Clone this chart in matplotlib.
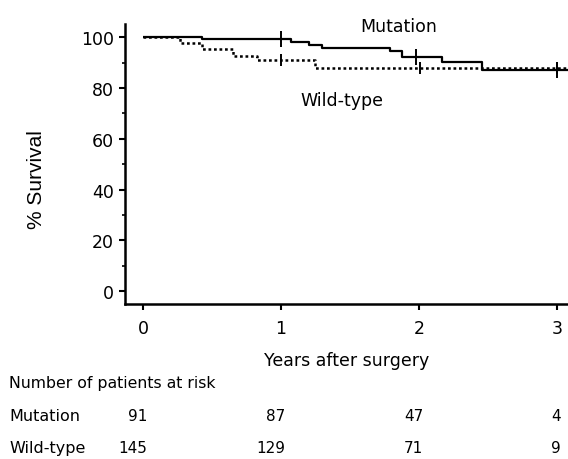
import numpy as np
import matplotlib
matplotlib.use("Agg")
import matplotlib.pyplot as plt
import matplotlib.transforms as mtransforms
from matplotlib.ticker import MultipleLocator

# step curves (years, % survival)
mut_t = [0, 0.43, 1.07, 1.20, 1.30, 1.79, 1.88, 2.17, 2.46, 3.08]
mut_s = [100, 99.2, 98.3, 97.0, 95.7, 94.4, 92.3, 90.1, 87.1, 87.1]
wt_t = [0, 0.27, 0.43, 0.65, 0.83, 1.25, 3.08]
wt_s = [100, 97.9, 95.3, 92.7, 91.1, 88.0, 88.0]

# censor marks
mut_cens_t = [1.0, 1.98, 3.0]
mut_cens_s = [99.2, 92.3, 87.1]
wt_cens_t = [1.0, 2.01, 3.0]
wt_cens_s = [91.1, 88.0, 88.0]

# number at risk
risk_times = [0, 1, 2, 3]
risk_mut = [91, 87, 47, 4]
risk_wt = [145, 129, 71, 9]
row_names = ["Mutation", "Wild-type"]

plt.rcParams['font.family'] = ['DejaVu Sans']

fig = plt.figure(figsize=(5.68, 4.6), dpi=100)
ax = fig.add_axes([0.220, 0.337, 0.780, 0.609])

ax.step(mut_t, mut_s, where='post', color='black', lw=1.6, solid_capstyle='butt')
ax.step(wt_t, wt_s, where='post', color='black', lw=1.8, linestyle=(0, (1.1, 1.1)))
ax.plot(mut_cens_t, mut_cens_s, ls='none', marker='|', ms=11, mew=1.4, color='black')
ax.plot(wt_cens_t, wt_cens_s, ls='none', marker='|', ms=9, mew=1.4, color='black')

ax.set_xlim(-0.13, 3.08)
ax.set_ylim(-5.1, 105.3)
ax.set_xticks([0, 1, 2, 3])
ax.set_yticks([0, 20, 40, 60, 80, 100])
ax.yaxis.set_minor_locator(MultipleLocator(10))

for s in ['top', 'right']:
    ax.spines[s].set_visible(False)
for s in ['left', 'bottom']:
    ax.spines[s].set_linewidth(1.8)

ax.tick_params(axis='both', which='major', labelsize=12.5, width=1.5, length=4, pad=4)
ax.tick_params(axis='x', which='major', pad=7)
ax.tick_params(axis='y', which='minor', width=1.2, length=2.5)

ax.set_xlabel("Years after surgery", fontsize=12.5, labelpad=10)
fig.text(36 / 568, 1 - 180 / 460, "% Survival", family=['Liberation Sans', 'DejaVu Sans'],
         fontsize=15, rotation=90, ha='center', va='center')

ax.text(1.85, 104.3, "Mutation", fontsize=12.5, ha='center', va='center')
ax.text(1.44, 75.4, "Wild-type", fontsize=12.5, ha='center', va='center')

# at-risk table below the axes
trans = mtransforms.blended_transform_factory(ax.transData, fig.transFigure)
fig.text(9 / 568, 1 - 384 / 460, "Number of patients at risk", fontsize=11.3, va='center')
row_y = [1 - 417 / 460, 1 - 449 / 460]
for name, vals, y in zip(row_names, [risk_mut, risk_wt], row_y):
    fig.text(9 / 568, y, name, fontsize=11.5, va='center')
    for t, v in zip(risk_times, vals):
        ax.text(t + 0.03, y, str(v), fontsize=11, ha='right', va='center', transform=trans)

fig.savefig("out.png", dpi=100)
